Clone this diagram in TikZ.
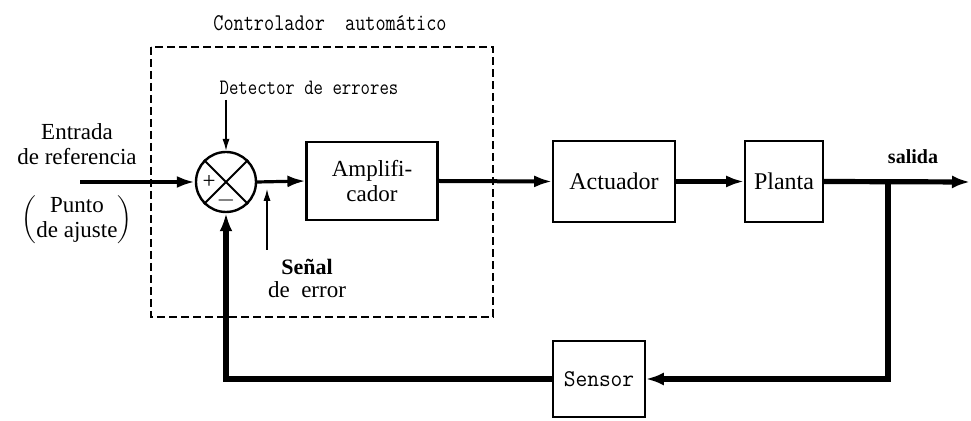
\documentclass[tikz,border=0pt]{standalone}
\usepackage{fontspec}
\setmainfont{Liberation Serif}
\usetikzlibrary{arrows.meta}

\begin{document}
\begin{tikzpicture}[
  x=0.5pt,
  y=-0.5pt,
  blk/.style={draw=black,line width=0.8pt,inner sep=0pt,align=center,font=\fontsize{11.5}{12.5}\selectfont},
  sumnode/.style={circle,draw=black,line width=1.2pt,minimum size=30pt,inner sep=0pt},
  sig/.style={line width=2pt,-{Latex[length=9pt,width=6pt]}},
  fb/.style={line width=2.6pt,-{Latex[length=9pt,width=6.5pt]}},
  tin/.style={line width=0.7pt,-{Latex[length=6pt,width=3.6pt]}},
  lab/.style={font=\fontsize{11.5}{12.5}\selectfont,align=center,inner sep=0pt},
  mono/.style={font=\ttfamily\fontsize{12}{14}\selectfont,inner sep=0pt}
]
\useasboundingbox (0,0) rectangle (971,421);
\draw[line width=0.8pt,dash pattern=on 4pt off 2pt] (151,47) rectangle (493,317);
\node[mono] (ctrl) at (330,23) {\scalebox{0.82}[1]{Controlador\ \ automático}};
\node[mono,font=\ttfamily\fontsize{11}{13}\selectfont] (det) at (309,88) {\scalebox{0.83}[1]{Detector de errores}};

\node[lab] (ent) at (77,144) {Entrada\\de referencia};
\node[lab] (aj) at (77,220) {$\left(\begin{tabular}{@{}c@{}}Punto\\de ajuste\end{tabular}\right)$};

\node[sumnode] (sum) at (226,182) {};
\draw[line width=1pt] (sum.north west) -- (sum.south east) (sum.north east) -- (sum.south west);
\node[lab] (plus) at (209,182) {+};
\node[lab] (minus) at (226,201) {$-$};

\node[blk,line width=1.1pt,minimum width=65.5pt,minimum height=39pt] (amp) at (372,181) {Amplifi-\\cador};
\node[blk,minimum width=61pt,minimum height=40.5pt,font=\fontsize{12}{13}\selectfont] (act) at (614,181.5) {Actuador};
\node[blk,minimum width=39pt,minimum height=40.5pt,font=\fontsize{12}{13}\selectfont] (plant) at (784,181.5) {Planta};
\node[blk,minimum width=46pt,minimum height=38pt,font=\ttfamily\fontsize{12}{13}\selectfont] (sens) at (599,379) {\scalebox{0.95}[1]{Sensor}};

\node[lab,font=\bfseries\fontsize{11}{12}\selectfont] (sen) at (307,267) {Señal};
\node[lab] (err) at (307,290) {de\ \ error};
\node[lab,font=\bfseries\fontsize{10}{12}\selectfont] (sal) at (913,157) {salida};

\coordinate (in) at (80,182);
\coordinate (out) at (970,182);
\coordinate (br) at (888,182);
\coordinate (dtop) at (226,100);
\coordinate (ebot) at (267,250);
\coordinate (etip) at (267,189);

\draw[sig] (in) -- (sum.west);
\draw[sig,line width=1.6pt] (sum.east) -- (amp.west);
\draw[sig] (amp.east) -- (act.west);
\draw[sig,line width=2.6pt] (act.east) -- (plant.west);
\draw[fb] (plant.east) -- (out);
\draw[fb] (br) |- (sens.east);
\draw[fb] (sens.west) -| (sum.south);
\draw[tin] (dtop) -- (sum.north);
\draw[tin] (ebot) -- (etip);
\end{tikzpicture}
\end{document}
